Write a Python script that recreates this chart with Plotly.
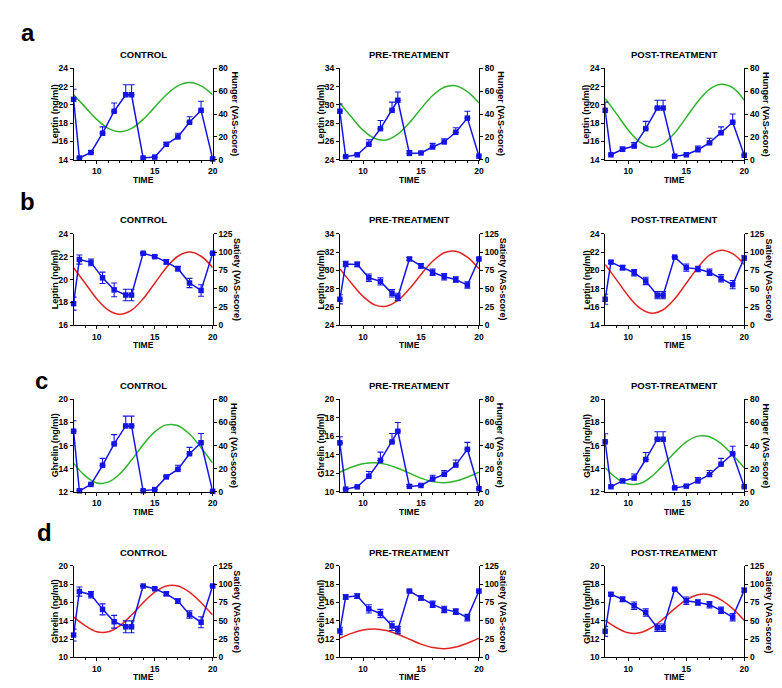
import plotly.graph_objects as go

# ---------------- data ----------------
times = [8, 8.5, 9.5, 10.5, 11.5, 12.5, 13, 14, 15, 16, 17, 18, 19, 20]
curve_times = [8, 9, 10, 11, 12, 13, 14, 15, 16, 17, 18, 19, 20]
col_titles = ["CONTROL", "PRE-TREATMENT", "POST-TREATMENT"]
row_letters = ["a", "b", "c", "d"]

# Row a: leptin vs hunger
leptin_a_control = [20.6, 14.2, 14.8, 16.9, 19.3, 21.1, 21.1, 14.2, 14.3, 15.7, 16.5, 18.1, 19.4, 14.1]
leptin_a_control_err = [1.1, 0, 0.2, 0.7, 0.9, 1.1, 1.1, 0, 0, 0.2, 0.4, 0.6, 1.0, 0]
hunger_a_control = [56.8, 46, 35.3, 27.4, 24.5, 27.4, 35.3, 46, 56.8, 64.6, 67.5, 64.6, 56.8]
leptin_a_pre = [29.3, 24.35, 24.55, 25.7, 27.4, 29.4, 30.5, 24.7, 24.75, 25.4, 25.95, 27.0, 28.55, 24.4]
leptin_a_pre_err = [0.8, 0, 0.1, 0.5, 0.9, 0.9, 0.9, 0.3, 0.1, 0.4, 0.35, 0.5, 0.75, 0]
hunger_a_pre = [49.6, 37.3, 25.9, 18.6, 17.3, 22.4, 32.4, 44.7, 56.1, 63.4, 64.7, 59.6, 49.6]
leptin_a_post = [19.4, 14.55, 15.15, 15.5, 17.4, 19.65, 19.65, 14.4, 14.55, 15.1, 15.85, 16.95, 18.1, 14.5]
leptin_a_post_err = [0.9, 0, 0.25, 0.4, 0.8, 0.85, 0.85, 0, 0, 0.4, 0.5, 0.65, 0.9, 0]
hunger_a_post = [53.5, 39.9, 26.0, 15.4, 11.0, 14.0, 23.5, 37.1, 51.0, 61.6, 66.0, 63.0, 52.0]

# Row b: leptin vs satiety
leptin_b_control = [17.9, 21.75, 21.5, 20.15, 19.1, 18.65, 18.65, 22.3, 22.0, 21.55, 20.95, 19.7, 19.05, 22.3]
leptin_b_control_err = [0.57, 0.4, 0.3, 0.5, 0.6, 0.5, 0.5, 0.05, 0.1, 0.2, 0.2, 0.4, 0.5, 0.05]
satiety_b_control = [78.75, 57.5, 36.25, 20.7, 15, 20.7, 36.25, 57.5, 78.75, 94.3, 100, 94.3, 78.75]
leptin_b_pre = [26.85, 30.7, 30.65, 29.2, 28.8, 27.5, 27.1, 31.25, 30.5, 29.8, 29.3, 29.0, 28.4, 31.25]
leptin_b_pre_err = [0.5, 0.3, 0.25, 0.4, 0.4, 0.4, 0.4, 0.15, 0.25, 0.35, 0.35, 0.3, 0.35, 0.1]
satiety_b_pre = [77.1, 57.6, 39.6, 28.0, 26.0, 34.0, 49.9, 69.4, 87.4, 99.0, 101.0, 93.0, 77.1]
leptin_b_post = [16.85, 20.9, 20.3, 19.75, 18.85, 17.3, 17.3, 21.45, 20.3, 20.15, 19.8, 19.15, 18.45, 21.35]
leptin_b_post_err = [0.55, 0.15, 0.25, 0.35, 0.4, 0.4, 0.4, 0.05, 0.4, 0.3, 0.35, 0.4, 0.45, 0.25]
satiety_b_post = [83.0, 61.8, 40.1, 23.5, 16.6, 21.3, 36.2, 57.4, 79.1, 95.7, 102.6, 97.9, 83.0]

# Row c: ghrelin vs hunger
ghrelin_c_control = [17.25, 12.1, 12.65, 14.3, 16.15, 17.7, 17.7, 12.1, 12.2, 13.3, 13.95, 15.3, 16.25, 12.05]
ghrelin_c_control_err = [0.9, 0, 0.1, 0.6, 0.8, 0.85, 0.85, 0, 0, 0.1, 0.35, 0.55, 0.8, 0]
hunger_c_control = [24.9, 13.8, 7.7, 8.5, 15.7, 27.5, 40.8, 51.9, 57.9, 57.2, 50.0, 38.2, 24.9]
ghrelin_c_pre = [15.3, 10.3, 10.55, 11.7, 13.4, 15.4, 16.55, 10.6, 10.7, 11.4, 11.9, 12.9, 14.6, 10.35]
ghrelin_c_pre_err = [0.65, 0, 0.05, 0.5, 0.9, 0.9, 0.95, 0.2, 0.1, 0.4, 0.4, 0.55, 0.75, 0]
hunger_c_pre = [17.0, 21.3, 24.3, 25.2, 23.8, 20.5, 16.2, 11.9, 8.9, 8.0, 9.4, 12.7, 17.0]
ghrelin_c_post = [16.33, 12.45, 12.95, 13.2, 14.8, 16.55, 16.55, 12.35, 12.5, 12.95, 13.5, 14.4, 15.3, 12.45]
ghrelin_c_post_err = [0.7, 0, 0.15, 0.35, 0.6, 0.65, 0.65, 0, 0.05, 0.3, 0.35, 0.5, 0.65, 0]
hunger_c_post = [20.95, 11.75, 6.8, 7.3, 13.3, 23.1, 34.05, 43.25, 48.2, 47.7, 41.7, 31.9, 20.95]

# Row d: ghrelin vs satiety
ghrelin_d_control = [12.45, 17.2, 16.85, 15.25, 13.9, 13.35, 13.35, 17.8, 17.5, 16.95, 16.15, 14.7, 13.85, 17.8]
ghrelin_d_control_err = [0.65, 0.5, 0.35, 0.6, 0.7, 0.65, 0.65, 0.05, 0.1, 0.2, 0.25, 0.4, 0.6, 0.05]
satiety_d_control = [55.5, 43.5, 35.1, 35.1, 43.5, 57.9, 74.7, 89.1, 97.5, 97.5, 89.1, 74.7, 57.9]
ghrelin_d_pre = [12.9, 16.6, 16.7, 15.3, 14.8, 13.45, 13.0, 17.25, 16.5, 15.8, 15.25, 15.0, 14.35, 17.25]
ghrelin_d_pre_err = [0.4, 0.25, 0.25, 0.45, 0.45, 0.5, 0.4, 0.1, 0.25, 0.35, 0.35, 0.3, 0.35, 0.1]
satiety_d_pre = [26.25, 32.9, 37.5, 39.0, 36.8, 31.7, 24.85, 18.2, 13.6, 12.1, 14.3, 19.45, 26.25]
ghrelin_d_post = [12.85, 16.9, 16.35, 15.65, 14.9, 13.25, 13.25, 17.45, 16.2, 16.0, 15.75, 15.15, 14.4, 17.35]
ghrelin_d_post_err = [0.55, 0.15, 0.25, 0.4, 0.4, 0.4, 0.4, 0.05, 0.4, 0.3, 0.35, 0.35, 0.4, 0.2]
satiety_d_post = [50.5, 40.6, 33.6, 33.6, 40.6, 52.6, 66.6, 78.6, 85.6, 85.6, 78.6, 66.6, 50.5]

left_ranges = [
    [[14, 24], [24, 34], [14, 24]],
    [[16, 24], [24, 34], [14, 24]],
    [[12, 20], [10, 20], [12, 20]],
    [[10, 20], [10, 20], [10, 20]],
]
left_titles = ["Leptin (ng/ml)", "Leptin (ng/ml)", "Ghrelin (ng/ml)", "Ghrelin (ng/ml)"]
right_titles = ["Hunger (VAS-score)", "Satiety (VAS-score)", "Hunger (VAS-score)", "Satiety (VAS-score)"]

hormone_rows = [
    [leptin_a_control, leptin_a_pre, leptin_a_post],
    [leptin_b_control, leptin_b_pre, leptin_b_post],
    [ghrelin_c_control, ghrelin_c_pre, ghrelin_c_post],
    [ghrelin_d_control, ghrelin_d_pre, ghrelin_d_post],
]
error_rows = [
    [leptin_a_control_err, leptin_a_pre_err, leptin_a_post_err],
    [leptin_b_control_err, leptin_b_pre_err, leptin_b_post_err],
    [ghrelin_c_control_err, ghrelin_c_pre_err, ghrelin_c_post_err],
    [ghrelin_d_control_err, ghrelin_d_pre_err, ghrelin_d_post_err],
]
score_rows = [
    [hunger_a_control, hunger_a_pre, hunger_a_post],
    [satiety_b_control, satiety_b_pre, satiety_b_post],
    [hunger_c_control, hunger_c_pre, hunger_c_post],
    [satiety_d_control, satiety_d_pre, satiety_d_post],
]

# ---------------- layout geometry (pixels) ----------------
W, H = 782, 688
col_px = [(66, 206), (334, 474), (601, 741)]
row_px = [(56, 149), (224, 317), (392, 486), (561, 654)]
letter_px = [(20, 20), (20, 191), (34, 373), (37, 527)]

FONT = "Liberation Sans, Arial, sans-serif"
BLUE = "#1414e6"
GREEN = "#2fb32f"
RED = "#e02424"


def px_x(p):
    return p / W


def px_y(p):
    return 1 - p / H


fig = go.Figure()
layout = dict(
    width=W, height=H, autosize=False,
    margin=dict(l=0, r=0, t=0, b=0),
    paper_bgcolor="white", plot_bgcolor="white",
    showlegend=False,
    font=dict(family=FONT, color="black"),
)
annotations = []

tickfont = dict(family=FONT, size=8.5, color="black", weight="bold")

for r in range(4):
    hunger_row = r in (0, 2)
    score_color = GREEN if hunger_row else RED
    score_range = [0, 80] if hunger_row else [0, 125]
    score_dtick = 20 if hunger_row else 25
    for c in range(3):
        k = r * 3 + c
        xi = k + 1
        base_y = 2 * k + 1   # right axis (score), base
        over_y = 2 * k + 2   # left axis (hormone), overlay
        xname = "xaxis" if xi == 1 else f"xaxis{xi}"
        xref = "x" if xi == 1 else f"x{xi}"
        bname = "yaxis" if base_y == 1 else f"yaxis{base_y}"
        bref = "y" if base_y == 1 else f"y{base_y}"
        oname = f"yaxis{over_y}"
        oref = f"y{over_y}"

        x0, x1 = col_px[c]
        yt, yb = row_px[r]
        xd = [px_x(x0), px_x(x1)]
        yd = [px_y(yb), px_y(yt)]

        layout[xname] = dict(
            domain=xd, anchor=bref, range=[8, 20],
            tickmode="array", tickvals=[10, 15, 20],
            ticks="outside", ticklen=3, tickwidth=1, tickcolor="black",
            minor=dict(tickmode="array", tickvals=[9, 11, 12, 13, 14, 16, 17, 18, 19],
                       ticks="outside", ticklen=2, tickwidth=1, tickcolor="black"),
            showline=True, linecolor="black", linewidth=1,
            showgrid=False, zeroline=False, tickfont=tickfont,
        )
        layout[bname] = dict(
            domain=yd, anchor=xref, side="right", range=score_range,
            dtick=score_dtick, tick0=0,
            ticks="outside", ticklen=3, tickwidth=1, tickcolor="black",
            showline=True, linecolor="black", linewidth=1,
            showgrid=False, zeroline=False, tickfont=tickfont,
        )
        lr = left_ranges[r][c]
        layout[oname] = dict(
            overlaying=bref, anchor=xref, side="left", range=lr,
            dtick=2, tick0=0,
            ticks="outside", ticklen=3, tickwidth=1, tickcolor="black",
            showline=True, linecolor="black", linewidth=1,
            showgrid=False, zeroline=False, tickfont=tickfont,
        )

        # score curve (hunger/satiety) on right axis
        fig.add_trace(go.Scatter(
            x=curve_times, y=score_rows[r][c], xaxis=xref, yaxis=bref,
            mode="lines", line=dict(color=score_color, width=1.5, shape="spline", smoothing=1.0),
            hoverinfo="skip", cliponaxis=False,
        ))

        # hormone series on left axis
        err = error_rows[r][c]
        if hunger_row:
            ey = dict(type="data", symmetric=False, array=err, arrayminus=[0] * len(err),
                      color=BLUE, thickness=1.1, width=3)
        else:
            ey = dict(type="data", symmetric=True, array=err,
                      color=BLUE, thickness=1.1, width=3)
        fig.add_trace(go.Scatter(
            x=times, y=hormone_rows[r][c], xaxis=xref, yaxis=oref,
            mode="lines+markers",
            line=dict(color=BLUE, width=1.5),
            marker=dict(symbol="square", size=5.5, color=BLUE),
            error_y=ey, cliponaxis=False,
        ))

        # panel title
        annotations.append(dict(
            text=col_titles[c], x=px_x((x0 + x1) / 2), y=px_y(yt - 14),
            xref="paper", yref="paper", showarrow=False,
            xanchor="center", yanchor="middle",
            font=dict(family=FONT, size=9.5, color="black", weight="bold"),
        ))
        # x title
        annotations.append(dict(
            text="TIME", x=px_x((x0 + x1) / 2), y=px_y(yb + 20),
            xref="paper", yref="paper", showarrow=False,
            xanchor="center", yanchor="middle",
            font=dict(family=FONT, size=8.5, color="black", weight="bold"),
        ))
        # left axis title
        annotations.append(dict(
            text=left_titles[r], x=px_x(x0 - 19), y=px_y((yt + yb) / 2),
            xref="paper", yref="paper", showarrow=False, textangle=-90,
            xanchor="center", yanchor="middle",
            font=dict(family=FONT, size=9, color="black", weight="bold"),
        ))
        # right axis title
        roff = 22 if hunger_row else 25
        annotations.append(dict(
            text=right_titles[r], x=px_x(x1 + roff), y=px_y((yt + yb) / 2),
            xref="paper", yref="paper", showarrow=False, textangle=90,
            xanchor="center", yanchor="middle",
            font=dict(family=FONT, size=9, color="black", weight="bold"),
        ))

    lx, ly = letter_px[r]
    annotations.append(dict(
        text=row_letters[r], x=px_x(lx), y=px_y(ly),
        xref="paper", yref="paper", showarrow=False,
        xanchor="center", yanchor="middle",
        font=dict(family=FONT, size=24, color="black", weight="bold"),
    ))

layout["annotations"] = annotations
fig.update_layout(**layout)
fig.write_html("out.html")
